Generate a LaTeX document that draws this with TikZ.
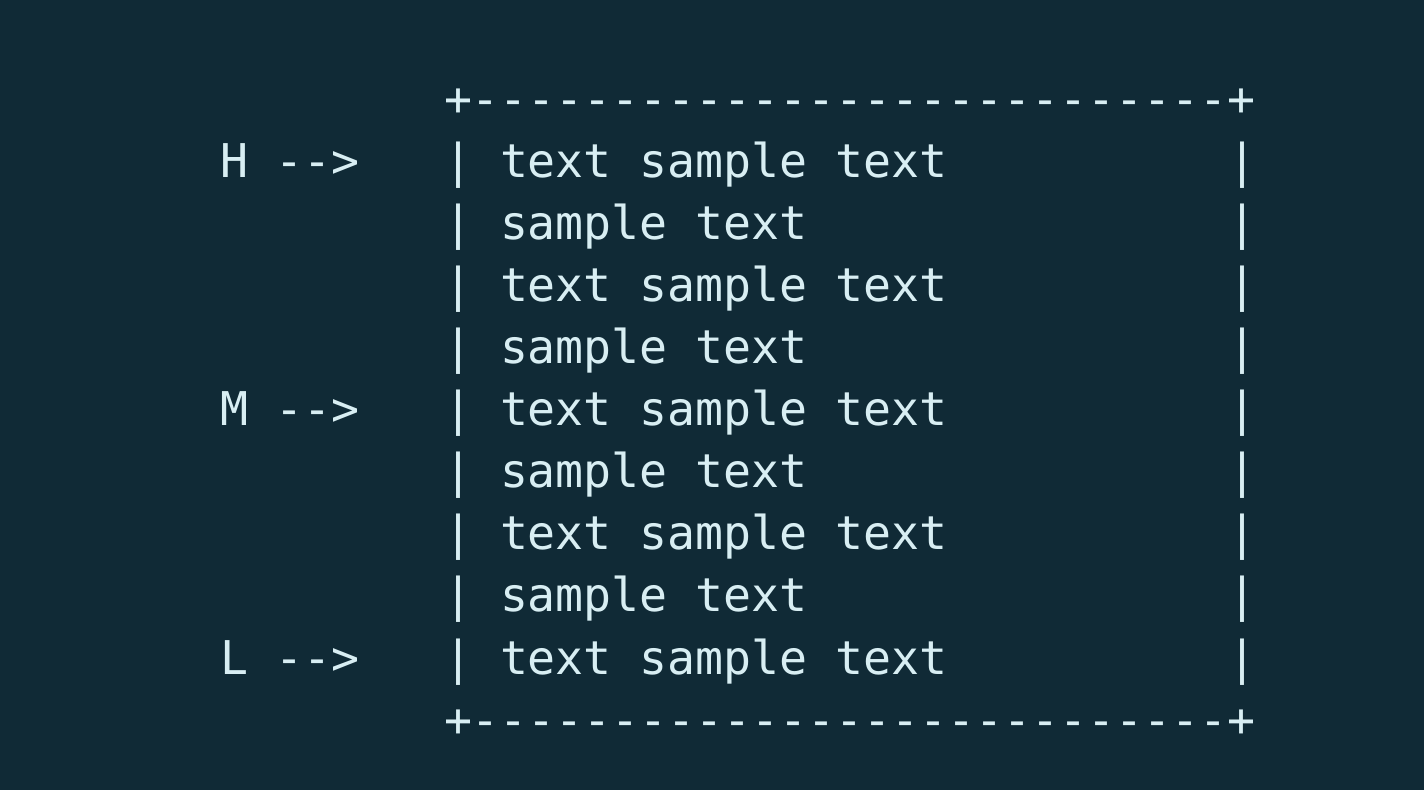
\documentclass[tikz,border=0pt]{standalone}
\usepackage{fontspec}
\setmonofont{DejaVu Sans Mono}
\definecolor{bgc}{RGB}{16,42,54}
\definecolor{fgc}{RGB}{216,238,243}
\begin{document}
\begin{tikzpicture}[x=1pt,y=1pt,
  txt/.style={anchor=base west,inner sep=0pt,outer sep=0pt,text=fgc,font=\ttfamily\fontsize{46.5}{50}\selectfont}]
\fill[bgc] (0,0) rectangle (1424,790);
\useasboundingbox (0,0) rectangle (1424,790);
% column pitch 28, box starts at x=444, labels at x=220
\node[txt] (top) at (444,790-116) {+---------------------------+};
\node[txt] (bot) at (444,790-736) {+---------------------------+};
\foreach \i/\t in {1/text sample text,2/sample text,3/text sample text,4/sample text,5/text sample text,6/sample text,7/text sample text,8/sample text,9/text sample text}{
  \pgfmathsetmacro{\yy}{790-178-(\i-1)*62}
  \node[txt] (lb\i) at (444,\yy) {|};
  \node[txt] (tx\i) at (444+56,\yy) {\t};
  \node[txt] (rb\i) at (444+28*28,\yy) {|};
}
\node[txt] (H) at (220,790-178) {H -->};
\node[txt] (M) at (220,790-426) {M -->};
\node[txt] (L) at (220,790-674) {L -->};
\end{tikzpicture}
\end{document}
